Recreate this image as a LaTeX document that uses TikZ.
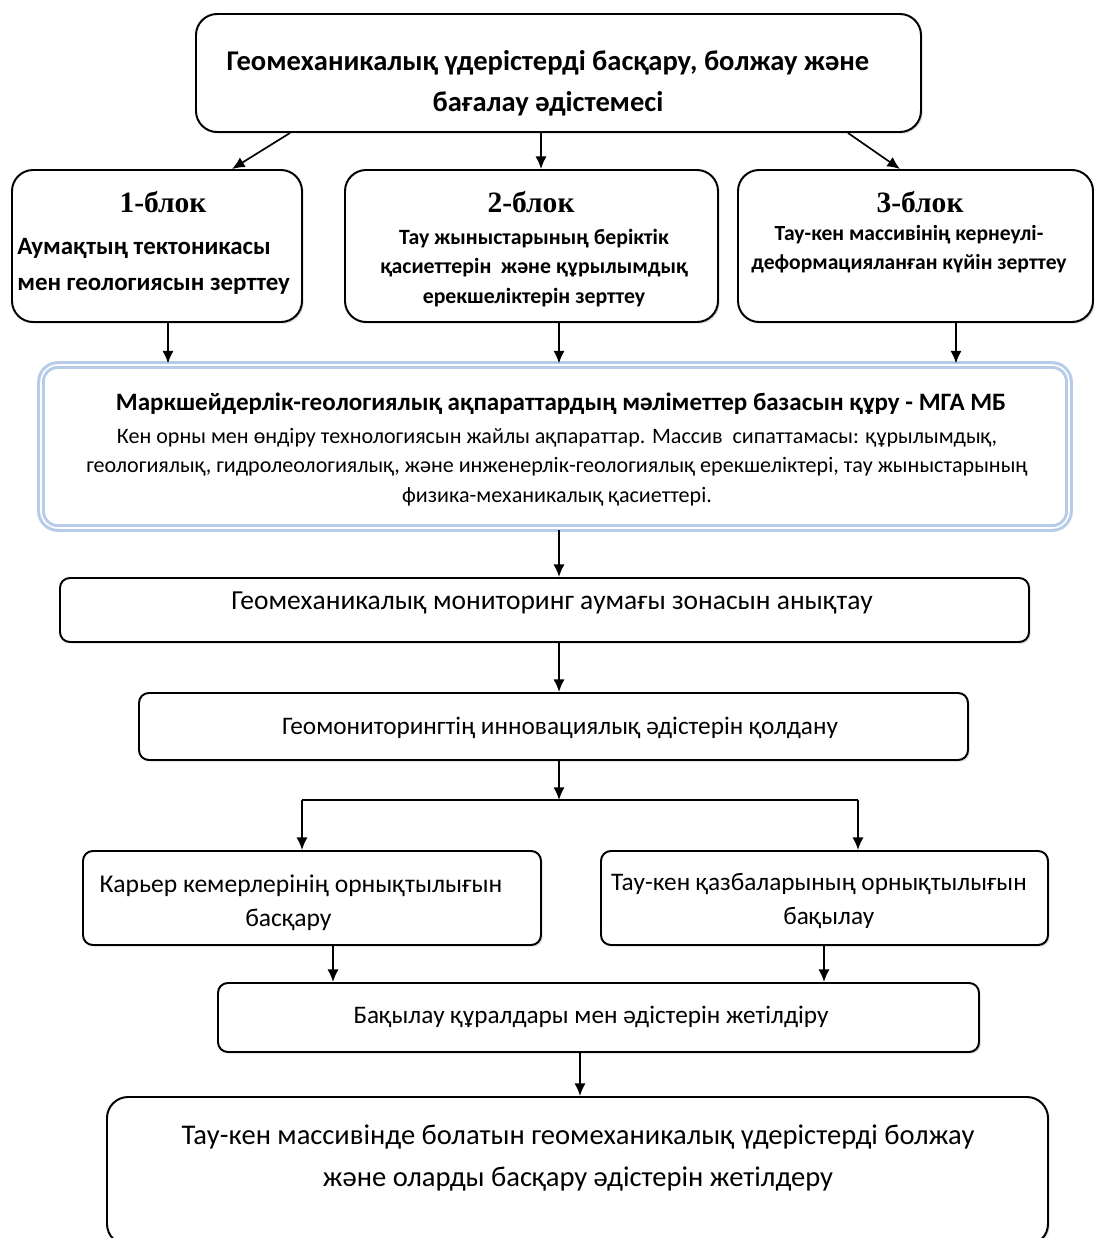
\documentclass[tikz,border=0pt]{standalone}
\usepackage{fontspec}
\setmainfont{Carlito}
\newfontfamily\headfont{Liberation Serif}
\usetikzlibrary{arrows.meta,shadows,calc}
\def\pxu{0.025cm}
\definecolor{bluedge}{RGB}{182,204,232}
\tikzset{
  box/.style={draw=black, line width=1.4pt, fill=white, rounded corners=#1,
    drop shadow={opacity=0.3, shadow xshift=1.2pt, shadow yshift=-1.2pt}},
  box/.default=7pt,
  mgabox/.style={draw=bluedge, line width=2.2pt, double=white, double distance=1.1pt, fill=white, rounded corners=12pt},
  txt/.style={inner sep=0pt, align=center},
  arr/.style={line width=1.2pt, -{Latex[length=9pt,width=8pt]}},
  ln/.style={line width=1.2pt},
}
\begin{document}
\begin{tikzpicture}[x=0.025cm, y=-0.025cm]
\useasboundingbox (0,0) rectangle (1094,1238);
\clip (0,0) rectangle (1094,1238);
% boxes
\node[box=15pt, minimum width=725*\pxu, minimum height=118*\pxu] (top) at (558.5,73) {};
\node[box=15pt, minimum width=290*\pxu, minimum height=152*\pxu] (b1) at (157,246) {};
\node[box=15pt, minimum width=373*\pxu, minimum height=152*\pxu] (b2) at (531.5,246) {};
\node[box=15pt, minimum width=355*\pxu, minimum height=152*\pxu] (b3) at (915.5,246) {};
\node[mgabox, minimum width=1028*\pxu, minimum height=163*\pxu] (mga) at (555,446.5) {};
\node[box, minimum width=969*\pxu, minimum height=64*\pxu] (m1) at (544.5,610) {};
\node[box, minimum width=829*\pxu, minimum height=67*\pxu] (m2) at (553.5,726.5) {};
\node[box, minimum width=458*\pxu, minimum height=94*\pxu] (l) at (312,898) {};
\node[box, minimum width=447*\pxu, minimum height=94*\pxu] (r) at (824.5,898) {};
\node[box, minimum width=761*\pxu, minimum height=69*\pxu] (bq) at (598.5,1017.5) {};
\node[box=15pt, minimum width=941*\pxu, minimum height=148*\pxu] (bot) at (577.5,1171) {};
% texts
\node[txt, font=\bfseries\fontsize{20.3}{29}\selectfont] (toptxt) at (548,83)
  {Геомеханикалық үдерістерді басқару, болжау және\\бағалау әдістемесі};
\node[txt, font=\headfont\bfseries\fontsize{21}{24}\selectfont] (h1) at (163,202) {1-блок};
\node[txt, font=\headfont\bfseries\fontsize{21}{24}\selectfont] (h2) at (531,202) {2-блок};
\node[txt, font=\headfont\bfseries\fontsize{21}{24}\selectfont] (h3) at (920,202) {3-блок};
\node[txt, align=left, anchor=west, font=\bfseries\fontsize{17.7}{25.5}\selectfont] (t1) at (17,266)
  {Аумақтың тектоникасы\\мен геологиясын зерттеу};
\node[txt, font=\bfseries\fontsize{15.5}{21}\selectfont] (t2) at (534,268)
  {Тау жыныстарының беріктік\\қасиеттерін\ \ және құрылымдық\\ерекшеліктерін зерттеу};
\node[txt, font=\bfseries\fontsize{15.35}{21}\selectfont] (t3) at (909,249)
  {Тау-кен массивінің кернеулі-\\деформацияланған күйін зерттеу};
\node[txt, font=\bfseries\fontsize{17.8}{21}\selectfont] (mgat) at (561,404)
  {Маркшейдерлік-геологиялық ақпараттардың мәліметтер базасын құру - МГА МБ};
\node[txt, font=\fontsize{15.7}{21}\selectfont] (mgab) at (557,467)
  {Кен орны мен өндіру технологиясын жайлы ақпараттар. Массив\ \ сипаттамасы: құрылымдық,\\
   геологиялық, гидролеологиялық, және инженерлік-геологиялық ерекшеліктері, тау жыныстарының\\
   физика-механикалық қасиеттері.};
\node[txt, font=\fontsize{19.55}{24}\selectfont] (m1t) at (552,603) {Геомеханикалық мониторинг аумағы зонасын анықтау};
\node[txt, font=\fontsize{17.95}{24}\selectfont] (m2t) at (560,728) {Геомониторингтің инновациялық әдістерін қолдану};
\node[txt, font=\fontsize{18.2}{24}\selectfont] (lt) at (301,903) {Карьер кемерлерінің орнықтылығын\\басқару\rule{18pt}{0pt}};
\node[txt, font=\fontsize{17.95}{24}\selectfont] (rt) at (819,901) {Тау-кен қазбаларының орнықтылығын\\\rule{14pt}{0pt}бақылау};
\node[txt, font=\fontsize{17.95}{24}\selectfont] (bqt) at (591,1017) {Бақылау құралдары мен әдістерін жетілдіру};
\node[txt, font=\fontsize{20.3}{30}\selectfont] (bott) at (578,1158)
  {Тау-кен массивінде болатын геомеханикалық үдерістерді болжау\\және оларды басқару әдістерін жетілдеру};
% connectors
\draw[arr] (top.south -| 290,0) -- (b1.north -| 232,0);
\draw[arr] (top.south -| 541,0) -- (b2.north -| 541,0);
\draw[arr] (top.south -| 848,0) -- (b3.north -| 900,0);
\draw[arr] (b1.south -| 168,0) -- (mga.north -| 168,0);
\draw[arr] (b2.south -| 559,0) -- (mga.north -| 559,0);
\draw[arr] (b3.south -| 956,0) -- (mga.north -| 956,0);
\draw[arr] (mga.south -| 559,0) -- (m1.north -| 559,0);
\draw[arr] (m1.south -| 559,0) -- (m2.north -| 559,0);
\coordinate (j) at (559,800);
\coordinate (jl) at (302,800);
\coordinate (jr) at (858,800);
\draw[arr] (m2.south -| j) -- (j);
\draw[ln] (jl) -- (jr);
\draw[arr] (jl) -- (l.north -| jl);
\draw[arr] (jr) -- (r.north -| jr);
\draw[arr] (l.south -| 333,0) -- (bq.north -| 333,0);
\draw[arr] (r.south -| 824,0) -- (bq.north -| 824,0);
\draw[arr] (bq.south -| 580,0) -- (bot.north -| 580,0);
\end{tikzpicture}
\end{document}
